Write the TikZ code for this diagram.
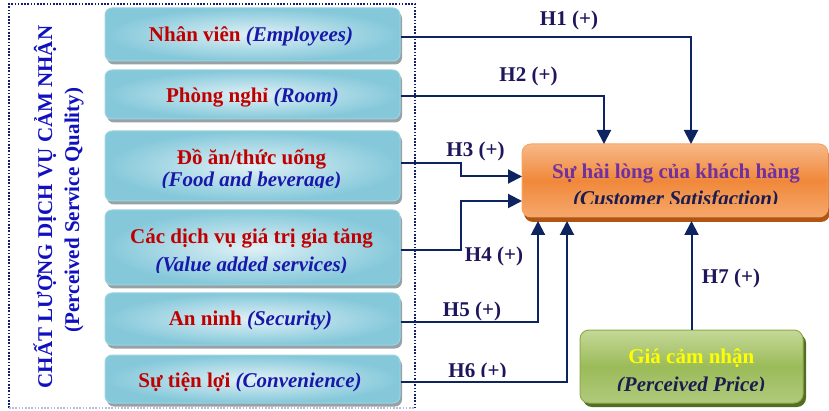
\documentclass[tikz,border=0pt]{standalone}
\usepackage{fontspec}
\setmainfont{Liberation Serif}
\usetikzlibrary{arrows.meta,calc}

\definecolor{vnred}{RGB}{192,0,0}
\definecolor{enblue}{RGB}{24,24,170}
\definecolor{axisblue}{RGB}{16,16,190}
\definecolor{hnavy}{RGB}{30,22,90}
\definecolor{linenavy}{RGB}{14,36,96}
\definecolor{frameNavy}{RGB}{20,30,110}
\definecolor{frameLight}{RGB}{190,190,220}
\definecolor{boxin}{RGB}{224,241,246}
\definecolor{boxout}{RGB}{132,200,218}
\definecolor{boxedge}{RGB}{156,212,226}
\definecolor{boxshadow}{RGB}{150,162,165}
\definecolor{orTop}{RGB}{248,184,136}
\definecolor{orMid}{RGB}{240,136,58}
\definecolor{orBot}{RGB}{246,168,108}
\definecolor{orEdge}{RGB}{246,164,100}
\definecolor{orShadow}{RGB}{176,86,18}
\definecolor{satPurple}{RGB}{112,48,160}
\definecolor{satNavy}{RGB}{28,28,78}
\definecolor{grTop}{RGB}{196,216,152}
\definecolor{grMid}{RGB}{155,187,89}
\definecolor{grBot}{RGB}{176,202,124}
\definecolor{grEdge}{RGB}{140,174,74}
\definecolor{grShadow}{RGB}{84,108,36}
\definecolor{priceYellow}{RGB}{255,255,0}

\tikzset{
  basefont/.style={font=\bfseries\fontsize{21}{24}\selectfont},
  factorbox/.style={draw=boxedge, line width=1pt, rounded corners=7pt,
    inner color=boxin, outer color=boxout, inner sep=0pt, minimum width=295pt,
    preaction={fill=boxshadow, transform canvas={xshift=2pt, yshift=-3.5pt}}},
  satbox/.style={draw=orEdge, line width=1pt, rounded corners=9pt,
    top color=orTop, bottom color=orBot, middle color=orMid, inner sep=0pt,
    minimum width=306pt, minimum height=73pt,
    preaction={fill=orShadow, transform canvas={xshift=2pt, yshift=-5pt}}},
  pricebox/.style={draw=grEdge, line width=1pt, rounded corners=9pt,
    top color=grTop, bottom color=grBot, middle color=grMid, inner sep=0pt,
    minimum width=223pt, minimum height=73pt,
    preaction={fill=grShadow, transform canvas={xshift=3pt, yshift=-4pt}}},
  vn/.style={basefont, text=vnred, anchor=base, inner sep=0pt},
  en/.style={basefont, text=enblue, anchor=base, inner sep=0pt},
  hyp/.style={basefont, text=hnavy, anchor=base, inner sep=0pt},
  axislabel/.style={basefont, text=axisblue, rotate=90, anchor=base, inner sep=0pt},
  conn/.style={draw=linenavy, line width=2pt, line join=miter,
    -{Triangle[length=14pt, width=14pt]}},
}

\begin{document}
\begin{tikzpicture}[x=1pt, y=-1pt]
\useasboundingbox (0,0) rectangle (829,411);

% dotted frame round the service-quality factors
\draw[frameNavy, line width=1.6pt, dash pattern=on 1.6pt off 1.6pt]
  (9,408) -- (9,4) -- (415,4) -- (415,408);
\draw[frameLight, line width=1.2pt, dash pattern=on 1.6pt off 1.6pt]
  (9,408) -- (415,408);

% rotated group label
\node[axislabel] (qlab1) at (52,207) {CHẤT LƯỢNG DỊCH VỤ CẢM NHẬN};
\node[axislabel] (qlab2) at (79,210) {(Perceived Service Quality)};

% factor boxes
\node[factorbox, minimum height=53pt] (b1) at (252.5,34.5) {};
\node[factorbox, minimum height=49pt] (b2) at (252.5,94.5) {};
\node[factorbox, minimum height=70pt] (b3) at (252.5,166) {};
\node[factorbox, minimum height=75pt] (b4) at (252.5,247.5) {};
\node[factorbox, minimum height=52pt] (b5) at (252.5,319) {};
\node[factorbox, minimum height=48pt] (b6) at (252.5,379) {};

% outcome and price boxes
\node[satbox] (sat) at (675,180.5) {};
\node[pricebox] (price) at (691.5,366.5) {};

% factor texts
\node[vn] (t1) at (251,41.5) {Nhân viên \textcolor{enblue}{\itshape(Employees)}};
\node[vn] (t2) at (252.5,102.5) {Phòng ngh^^^^1ec9 \textcolor{enblue}{\itshape(Room)}};
\node[vn] (t3a) at (251.5,164.3) {Đồ ăn/thức uống};
\begin{scope}
  \clip (110,170) rectangle (395,188);
  \node[en] (t3b) at (251.5,187) {\itshape(Food and beverage)};
\end{scope}
\node[vn] (t4a) at (251.5,243.3) {Các dịch vụ giá trị gia tăng};
\begin{scope}
  \clip (110,250) rectangle (395,273);
  \node[en] (t4b) at (251.5,271.5) {\itshape(Value added services)};
\end{scope}
\node[vn] (t5) at (250.5,325) {An ninh \textcolor{enblue}{\itshape(Security)}};
\node[vn] (t6) at (250,387.3) {Sự tiện lợi \textcolor{enblue}{\itshape(Convenience)}};

% outcome and price texts
\node[vn, text=satPurple] (sat1) at (676,178.3) {Sự hài lòng của khách hàng};
\begin{scope}
  \clip (530,185) rectangle (820,204);
  \node[en, text=satNavy] (sat2) at (676,205.5) {\itshape(Customer Satisfaction)};
\end{scope}
\node[vn, text=priceYellow] (pr1) at (691.3,363.3) {Giá cảm nhận};
\begin{scope}
  \clip (590,370) rectangle (795,390);
  \node[en, text=satNavy] (pr2) at (691.3,391.5) {\itshape(Perceived Price)};
\end{scope}

% arrow end points on the outcome box
\coordinate (s1) at (691,144);
\coordinate (s2) at (604,144);
\coordinate (k3) at (460.5,176.5);
\coordinate (s3) at (522,176.5);
\coordinate (k4) at (460.5,201);
\coordinate (s4) at (522,201);
\coordinate (s5) at (538,221);
\coordinate (s6) at (567,221);
\coordinate (s7) at (691.5,221);

% hypothesised paths
\draw[conn] ([yshift=-2.5pt]b1.east) -| (s1);
\draw[conn] ([yshift=-1.5pt]b2.east) -| (s2);
\draw[conn] ([yshift=3pt]b3.east) -| (k3) -- (s3);
\draw[conn] ([yshift=-3pt]b4.east) -| (k4) -- (s4);
\draw[conn] ([yshift=-3pt]b5.east) -| (s5);
\draw[conn] ([yshift=-3pt]b6.east) -| (s6);
\draw[conn] (price.north) -- (s7);

% path labels
\node[hyp] (h1) at (569,26) {H1 (+)};
\node[hyp] (h2) at (528.5,81.7) {H2 (+)};
\node[hyp] (h3) at (475.5,156.7) {H3 (+)};
\node[hyp] (h4) at (494,261.7) {H4 (+)};
\node[hyp] (h5) at (472,316.7) {H5 (+)};
\begin{scope}
  \clip (440,355) rectangle (515,376);
  \node[hyp] (h6) at (477.5,377) {H6 (+)};
\end{scope}
\node[hyp] (h7) at (731,283.3) {H7 (+)};
\end{tikzpicture}
\end{document}
